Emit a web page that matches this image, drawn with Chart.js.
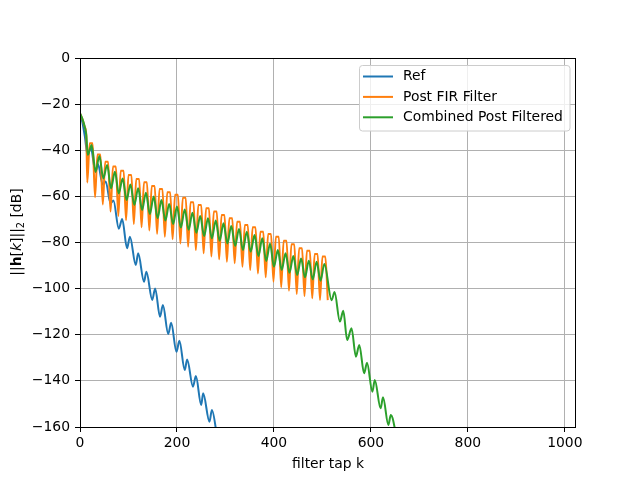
<!DOCTYPE html>
<html lang="en">
<head>
<meta charset="UTF-8">
<script src="https://cdn.jsdelivr.net/npm/chart.js@4.4.0/dist/chart.umd.min.js"></script>
<title>filter taps</title>
<style>
  body { margin: 0; background: #fff; }
  canvas { display: block; }
</style>
</head>
<body>
<canvas id="chart" width="640" height="480"></canvas>
<script>
// axis ticks
const xTicks = [0, 200, 400, 600, 800, 1000];
const yTicks = [0, -20, -40, -60, -80, -100, -120, -140, -160];

// first taps, shared by the two filtered curves
const headTaps = [0, 5, 10, 13];
const headDb = [-24, -26.5, -30, -33.5];

// Ref: taps and levels
const refTaps = [0, 5, 10, 16, 22, 32, 37, 47, 53, 63, 69, 80, 87, 97, 103, 115, 120, 132, 137, 149, 155,
  165, 171, 182, 188, 199, 205, 216, 221, 233, 239, 250, 254, 267, 272, 284];
const refDb = [-24, -28, -34, -42.5, -38.5, -49.5, -46, -55, -53.5, -63, -61.8, -74, -69.8, -82.5, -77.5,
  -89.8, -84.7, -97, -92.7, -104.9, -99.9, -112.2, -107.1, -119.7, -114.8, -127.4, -122.6, -135.3,
  -130.7, -142.5, -137.9, -150.5, -145.4, -157.7, -152.6, -166];

// Post FIR: one notch and one arch per 16 taps
const period = 16;
const firNotchDb = [-54, -60.4, -63.5, -66.6, -68.5, -70.3, -72, -73.4, -74.8, -76.2, -77.5, -78.6, -80.4,
  -81.8, -83.3, -84.7, -86.1, -87.3, -88.3, -89, -90.5, -91.9, -93.4, -95.1, -97, -99.4, -100.9, -102.3,
  -103.2, -104.2, -104.9, -105];
const firPeakDb = [-37, -41.8, -45, -47.1, -48.9, -50.7, -52.5, -53.9, -55.5, -56.8, -58.2, -59.3, -60.6,
  -62.5, -63.7, -65.2, -66.6, -68.1, -69.5, -71, -72.4, -73.4, -75.3, -76.3, -77.5, -79.2, -80.8, -82.5,
  -83.6, -85, -86.1];

// Combined: dips / peaks per 16 taps, then the tail after tap 512
const combDipDb = [-42, -49.3, -52.2, -56.5, -58.7, -61.6, -63.7, -65.9, -67.6, -69.5, -70.5, -72, -73.5,
  -74.5, -75.8, -77.2, -78.2, -79.2, -80.4, -81.5, -83.3, -84, -85.9, -88, -90.5, -91.9, -93.1, -94.1,
  -95.1, -96, -96.6];
const combPeakDb = [-37.7, -42.5, -46.4, -49.3, -52.2, -54.8, -56.5, -58.4, -60.1, -61.6, -63.3, -64.4,
  -65.7, -67.1, -68.5, -69.5, -70.5, -71.7, -72.8, -74.1, -75.3, -76.8, -78.2, -80.5, -83.3, -84.7, -85.9,
  -86.9, -87.9, -88.3, -89.3];
const combTailTaps = [519, 525, 536, 543, 551, 560, 569, 576, 586, 592, 603, 608, 620, 625, 636, 641, 656];
const combTailDb = [-105, -101.5, -114.3, -109.6, -122.3, -117.2, -129.5, -124.4, -136.7, -132.1, -144.7,
  -139.6, -151.9, -147.1, -159.1, -154.8, -168];

const labels = ['Ref', 'Post FIR Filter', 'Combined Post Filtered'];
const colors = ['#1f77b4', '#ff7f0e', '#2ca02c'];

const FONT = 'DejaVu Sans';
const FS = 13.9;

function pts(taps, db) {
  return taps.map((k, i) => ({ x: k, y: db[i] }));
}

const refPts = pts(refTaps, refDb);

const firPts = pts(headTaps, headDb);
firNotchDb.forEach((v, n) => {
  firPts.push({ x: period * n + 15, y: v });
  if (n < firPeakDb.length) {
    firPts.push({ x: period * (n + 1) + 4, y: firPeakDb[n] });
    firPts.push({ x: period * (n + 1) + 10, y: firPeakDb[n] });
  }
});

const combPts = pts(headTaps, headDb);
combDipDb.forEach((v, n) => {
  combPts.push({ x: period * n + 16, y: v });
  combPts.push({ x: period * (n + 1) + 8, y: combPeakDb[n] });
});
combPts.push(...pts(combTailTaps, combTailDb));

const frame = {
  id: 'frame',
  afterDatasetsDraw(chart) {
    const { ctx, chartArea: a } = chart;
    ctx.save();
    ctx.strokeStyle = '#000';
    ctx.lineWidth = 1;
    ctx.strokeRect(a.left + 0.5, a.top + 0.5, a.right - a.left - 1, a.bottom - a.top);
    ctx.restore();
  },
  afterDraw(chart) {
    const { ctx } = chart;
    ctx.save();
    // legend
    const bx = 359.5, by = 65.5, bw = 210.5, bh = 65.5, r = 3;
    ctx.beginPath();
    ctx.roundRect(bx, by, bw, bh, r);
    ctx.fillStyle = 'rgba(255,255,255,0.8)';
    ctx.fill();
    ctx.strokeStyle = '#cccccc';
    ctx.lineWidth = 1;
    ctx.stroke();
    ctx.font = FS + 'px "' + FONT + '"';
    ctx.textBaseline = 'middle';
    ctx.textAlign = 'left';
    labels.forEach((t, i) => {
      const y = 76.5 + i * 20.4;
      ctx.strokeStyle = colors[i];
      ctx.lineWidth = 2;
      ctx.beginPath();
      ctx.moveTo(363, y);
      ctx.lineTo(393, y);
      ctx.stroke();
      ctx.fillStyle = '#000';
      ctx.fillText(t, 403, y);
    });

    // x title
    ctx.textAlign = 'center';
    ctx.fillText('filter tap k', 328, 464);

    // y title: ||h[k]||_2 [dB]
    const parts = [
      ['||', 'normal', FS, 0],
      ['h', 'bold', FS, 0],
      ['[', 'normal', FS, 0],
      ['k', 'italic', FS, 0],
      [']||', 'normal', FS, 0],
      ['2', 'normal', FS * 0.7, 3],
      [' [dB]', 'normal', FS, 0]
    ];
    const fontOf = (w, s) => (w === 'italic' ? 'italic ' : w === 'bold' ? 'bold ' : '') + s + 'px "' + FONT + '"';
    let total = 0;
    parts.forEach(p => { ctx.font = fontOf(p[1], p[2]); total += ctx.measureText(p[0]).width; });
    ctx.translate(16, 232);
    ctx.rotate(-Math.PI / 2);
    ctx.textAlign = 'left';
    ctx.textBaseline = 'alphabetic';
    let x = -total / 2;
    parts.forEach(p => {
      ctx.font = fontOf(p[1], p[2]);
      ctx.fillText(p[0], x, 5 + p[3]);
      x += ctx.measureText(p[0]).width;
    });
    ctx.restore();
  }
};

const lineStyle = (data, color, order) => ({
  data: data,
  borderColor: color,
  backgroundColor: color,
  borderWidth: 2,
  pointRadius: 0,
  fill: false,
  cubicInterpolationMode: 'monotone',
  clip: 0,
  order: order
});

new Chart(document.getElementById('chart').getContext('2d'), {
  type: 'line',
  data: {
    datasets: [
      Object.assign({ label: labels[0] }, lineStyle(refPts, colors[0], 3)),
      Object.assign({ label: labels[1] }, lineStyle(firPts, colors[1], 2)),
      Object.assign({ label: labels[2] }, lineStyle(combPts, colors[2], 1))
    ]
  },
  options: {
    responsive: false,
    animation: false,
    devicePixelRatio: 1,
    events: [],
    layout: { padding: { left: 0, top: 58, right: 64, bottom: 0 } },
    plugins: { legend: { display: false }, tooltip: { enabled: false } },
    scales: {
      x: {
        type: 'linear',
        min: 0,
        max: 1023,
        afterBuildTicks: s => { s.ticks = xTicks.map(v => ({ value: v })); },
        afterFit: s => { s.height = 53; },
        ticks: {
          font: { family: FONT, size: FS },
          color: '#000',
          padding: 3,
          maxRotation: 0,
          callback: v => String(v)
        },
        grid: { color: '#b0b0b0', lineWidth: 1, tickColor: '#000', tickLength: 5, tickWidth: 1 },
        border: { display: false }
      },
      y: {
        type: 'linear',
        min: -160,
        max: 0,
        afterBuildTicks: s => { s.ticks = yTicks.map(v => ({ value: v })); },
        afterFit: s => { s.width = 80; },
        ticks: {
          font: { family: FONT, size: FS },
          color: '#000',
          padding: 5,
          callback: v => (v === 0 ? '0' : '\u2212' + Math.abs(v))
        },
        grid: { color: '#b0b0b0', lineWidth: 1, tickColor: '#000', tickLength: 5, tickWidth: 1 },
        border: { display: false }
      }
    }
  },
  plugins: [frame]
});
</script>
</body>
</html>
